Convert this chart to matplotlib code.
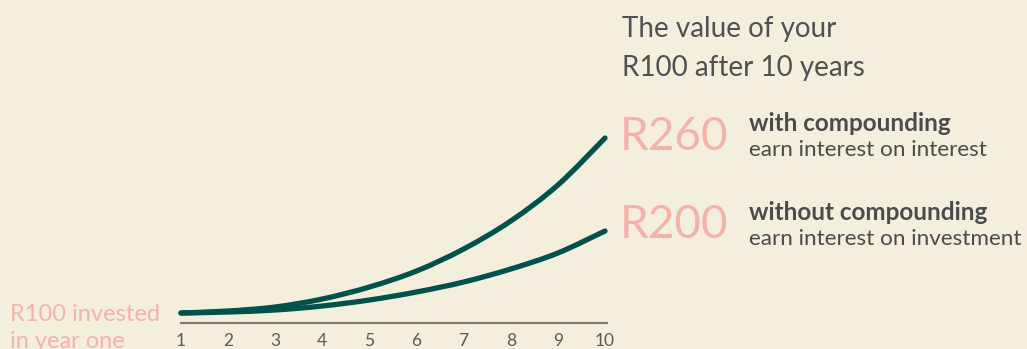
import matplotlib.pyplot as plt
from matplotlib.patches import PathPatch
from matplotlib.path import Path

# years on the x axis and the two illustrative growth curves
years = [1, 2, 3, 4, 5, 6, 7, 8, 9, 10]
with_compounding = [100, 102, 106, 114, 126, 142, 164, 192, 228, 275]
without_compounding = [100, 101, 103, 107, 113, 121, 131, 144, 160, 182]
tick_labels = ["1", "2", "3", "4", "5", "6", "7", "8", "9", "10"]

BG = "#f3efdc"
GREEN = "#02524b"
PINK = "#f4b3a9"
GREY = "#4b4b4b"
AXIS = "#7d7b74"

W, H = 1027, 349
FONT = ["Lato", "DejaVu Sans"]


def smooth_path(xs, ys):
    # catmull-rom through the points, drawn as cubic bezier segments
    verts = [(xs[0], ys[0])]
    codes = [Path.MOVETO]
    n = len(xs)
    for i in range(n - 1):
        x0, y0 = (xs[i - 1], ys[i - 1]) if i > 0 else (xs[i], ys[i])
        x1, y1 = xs[i], ys[i]
        x2, y2 = xs[i + 1], ys[i + 1]
        x3, y3 = (xs[i + 2], ys[i + 2]) if i + 2 < n else (x2, y2)
        c1 = (x1 + (x2 - x0) / 6, y1 + (y2 - y0) / 6)
        c2 = (x2 - (x3 - x1) / 6, y2 - (y3 - y1) / 6)
        verts += [c1, c2, (x2, y2)]
        codes += [Path.CURVE4] * 3
    return Path(verts, codes)


fig = plt.figure(figsize=(W / 100, H / 100), dpi=100, facecolor=BG)
ax = fig.add_axes([0, 0, 1, 1])
ax.set_facecolor(BG)
ax.axis("off")

# map data so year 1 sits at px 181 and year 10 at px 605
px_per_year = (605 - 181) / 9
ax.set_xlim(1 - 181 / px_per_year, 1 + (W - 181) / px_per_year)
ax.set_ylim(100 - (H - 313), 100 + 313)

for series in (with_compounding, without_compounding):
    ax.add_patch(PathPatch(smooth_path(years, series), facecolor="none", edgecolor=GREEN,
                           lw=3.8, capstyle="round", joinstyle="round"))
ax.plot([1, 10.04], [90, 90], color=AXIS, lw=1.6)

for x, lab in zip(years, tick_labels):
    ax.text(x, 72, lab, ha="center", va="center", fontsize=12.5, color="#5a5a5a", family=FONT)


def put(x, y, s, **kw):
    fig.text(x / W, 1 - y / H, s, family=FONT, va="baseline", **kw)


put(622, 37, "The value of your", fontsize=20, color="#505050")
put(622, 76, "R100 after 10 years", fontsize=20, color="#505050")

put(620, 150, "R260", fontsize=33, color=PINK)
put(749, 131, "with compounding", fontsize=17.5, color=GREY, fontweight="bold")
put(749, 156, "earn interest on interest", fontsize=16.2, color=GREY)

put(620, 238, "R200", fontsize=33, color=PINK)
put(749, 220, "without compounding", fontsize=17.5, color=GREY, fontweight="bold")
put(749, 245, "earn interest on investment", fontsize=16.2, color=GREY)

put(10, 321, "R100 invested", fontsize=17, color=PINK)
put(10, 348, "in year one", fontsize=17, color=PINK)

fig.savefig("out.png", dpi=100, facecolor=BG)
